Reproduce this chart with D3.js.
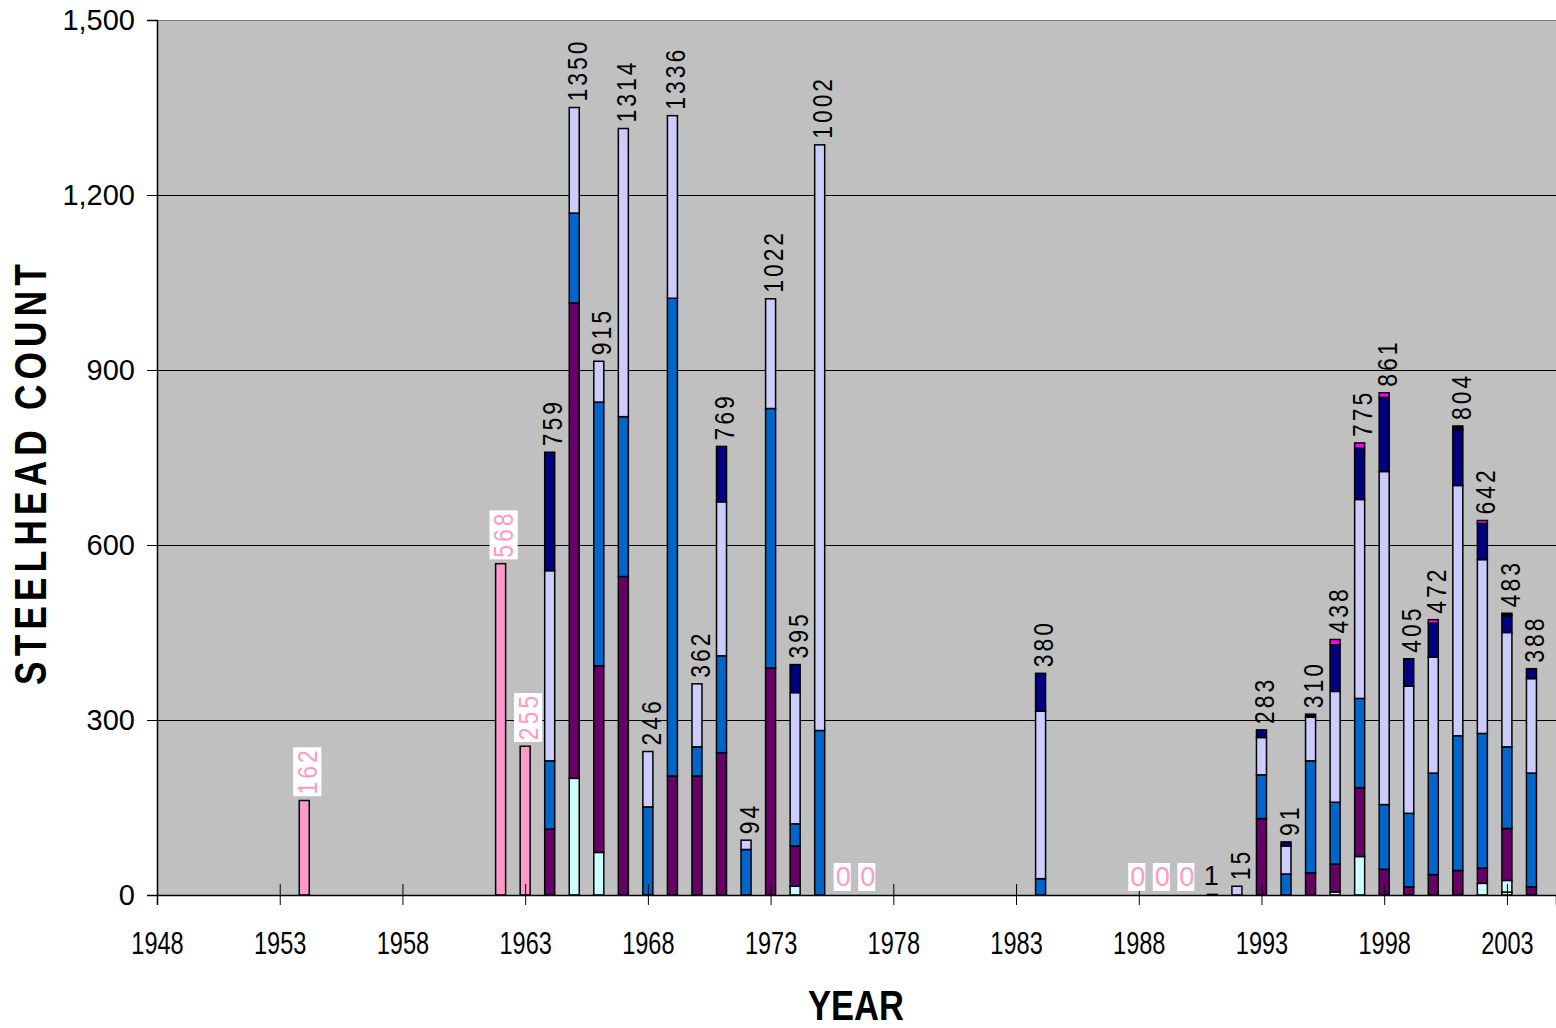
<!DOCTYPE html>
<html>
<head>
<meta charset="utf-8">
<script src="https://cdn.jsdelivr.net/npm/d3@7"></script>
<style>
  html, body { margin: 0; padding: 0; background: #ffffff; }
  svg { display: block; }
</style>
</head>
<body>
<script>
// ---------------- DATA ----------------
const years = [1954,1962,1963,1964,1965,1966,1967,1968,1969,1970,1971,1972,1973,1974,1975,1976,1977,1984,1988,1989,1990,1991,1992,1993,1994,1995,1996,1997,1998,1999,2000,2001,2002,2003,2004];
const barLabels = ["162","568","255","759","1350","915","1314","246","1336","362","769","94","1022","395","1002","0","0","380","0","0","0","1","15","283","91","310","438","775","861","405","472","804","642","483","388"];

const pink     = [162,568,255,null,null, null,null,null,null,null, null,null,null,null,null, 0,0,null,0,0, 0,null,null,null,null, null,null,null,null,null, null,null,null,null,null];
const yellow   = [0,0,0,0,0, 0,0,0,0,0, 0,0,0,0,0, 0,0,0,0,0, 0,0,0,0,0, 0,0,0,0,0, 0,0,0,5,0];
const cyan     = [0,0,0,0,200, 73,0,0,0,0, 0,0,0,15,0, 0,0,0,0,0, 0,0,0,0,0, 0,5,66,0,0, 0,0,20,20,0];
const purple   = [0,0,0,113,815, 320,546,0,204,204, 244,0,389,69,0, 0,0,0,0,0, 0,0,0,131,0, 38,48,118,44,14, 35,42,26,89,14];
const blue     = [0,0,0,117,154, 452,274,151,819,50, 166,78,445,38,282, 0,0,28,0,0, 0,0,0,75,36, 192,106,153,111,126, 174,231,231,140,195];
const lavender = [0,0,0,326,181, 70,494,95,313,108, 264,16,188,225,1004, 0,0,287,0,0, 0,0,15,64,48, 75,190,341,571,218, 199,429,298,196,162];
const navy     = [0,0,0,203,0, 0,0,0,0,0, 95,0,0,48,0, 0,0,65,0,0, 0,0,0,13,7, 0,80,88,127,47, 58,96,62,29,17];
const magenta  = [0,0,0,0,0, 0,0,0,0,0, 0,0,0,0,0, 0,0,0,0,0, 0,0,0,0,0, 0,9,9,8,0, 6,0,5,0,0];
const black    = [0,0,0,0,0, 0,0,0,0,0, 0,0,0,0,0, 0,0,0,0,0, 0,1,0,0,0, 5,0,0,0,0, 0,6,0,4,0];

const xTickValues = [1948,1953,1958,1963,1968,1973,1978,1983,1988,1993,1998,2003];
const yTickValues = [0,300,600,900,1200,1500];
const xTitle = "YEAR";
const yTitle = "STEELHEAD COUNT";

// ---------------- SETUP ----------------
const W = 1556, H = 1028;
const pLeft = 157, pRight = 1556, pTop = 20, pBottom = 895;

const seriesKeys = ["pink","yellow","cyan","purple","blue","lavender","navy","magenta","black"];
const seriesArrays = {pink, yellow, cyan, purple, blue, lavender, navy, magenta, black};
const colors = {
  pink: "#FF99CC", yellow: "#FFFFCC", cyan: "#CCFFFF", purple: "#660066",
  blue: "#0066CC", lavender: "#CCCCFF", navy: "#000080", magenta: "#FF00FF", black: "#000000"
};

const rows = years.map((yr, i) => {
  const r = {year: yr, label: barLabels[i], isPink: pink[i] !== null};
  seriesKeys.forEach(k => r[k] = seriesArrays[k][i] || 0);
  return r;
});

const x = d3.scaleLinear().domain([1948, 2005]).range([pLeft, pRight]);
const y = d3.scaleLinear().domain([0, 1500]).range([pBottom, pTop]);

const svg = d3.select("body").append("svg").attr("width", W).attr("height", H);

// plot background
svg.append("rect").attr("x", pLeft).attr("y", pTop)
  .attr("width", pRight - pLeft).attr("height", pBottom - pTop)
  .attr("fill", "#C0C0C0");

// top border
svg.append("line").attr("x1", pLeft).attr("x2", pRight).attr("y1", pTop + 0.5).attr("y2", pTop + 0.5)
  .attr("stroke", "#808080").attr("stroke-width", 1);

// gridlines
svg.append("g").selectAll("line").data(yTickValues.filter(v => v > 0 && v < 1500)).join("line")
  .attr("x1", pLeft).attr("x2", pRight)
  .attr("y1", d => Math.round(y(d)) + 0.5).attr("y2", d => Math.round(y(d)) + 0.5)
  .attr("stroke", "#000").attr("stroke-width", 1);

// stacked bars
const stacked = d3.stack().keys(seriesKeys)(rows);
const barW = 10;
const barsG = svg.append("g");
stacked.forEach(s => {
  barsG.append("g").selectAll("rect")
    .data(s.filter(d => d[1] - d[0] > 0))
    .join("rect")
    .attr("x", d => x(d.data.year) - barW / 2)
    .attr("width", barW)
    .attr("y", d => y(d[1]))
    .attr("height", d => y(d[0]) - y(d[1]))
    .attr("fill", colors[s.key])
    .attr("stroke", "#000")
    .attr("stroke-width", 1.5);
});

// axes
const yAxis = d3.axisLeft(y).tickValues(yTickValues).tickSize(10).tickPadding(12)
  .tickFormat(d3.format(","));
const yG = svg.append("g").attr("transform", `translate(${pLeft},0)`).call(yAxis);
yG.select(".domain").attr("stroke", "#000").attr("stroke-width", 1.5);
yG.selectAll(".tick line").attr("stroke", "#000").attr("stroke-width", 1);
yG.selectAll(".tick text")
  .attr("font-family", "'Liberation Sans', Arial, sans-serif")
  .attr("font-size", 29).attr("fill", "#000");

const xAxis = d3.axisBottom(x).tickValues(xTickValues).tickSize(10).tickFormat(d3.format("d"));
const xG = svg.append("g").attr("transform", `translate(0,${pBottom})`).call(xAxis);
xG.select(".domain").attr("stroke", "#000").attr("stroke-width", 1.5);
xG.selectAll(".tick line").attr("y1", -11).attr("y2", 10).attr("stroke", "#000").attr("stroke-width", 1);
xG.selectAll(".tick text")
  .attr("font-family", "'Liberation Sans', Arial, sans-serif")
  .attr("font-size", 31).attr("fill", "#000")
  .attr("y", 59).attr("dy", 0)
  .attr("transform", "scale(0.76,1)");

// bar labels
const labG = svg.append("g");
rows.forEach(r => {
  const total = seriesKeys.reduce((a, k) => a + r[k], 0);
  const cx = x(r.year);
  const yt = y(total);
  const rotated = r.label.length > 1;
  const g = labG.append("g");
  let t;
  if (rotated) {
    g.attr("transform", `translate(${cx + 3},${yt - 6}) rotate(-90) scale(0.85,1)`);
    t = g.append("text").attr("x", 0).attr("y", 0)
      .attr("dominant-baseline", "central").attr("text-anchor", "start")
      .attr("letter-spacing", 3.5);
  } else {
    g.attr("transform", `translate(${cx - 1},${yt})`);
    t = g.append("text").attr("x", 0).attr("y", -9).attr("text-anchor", "middle");
  }
  t.text(r.label)
    .attr("font-family", "'Liberation Sans', Arial, sans-serif")
    .attr("font-size", 27)
    .attr("fill", r.isPink ? "#FF99CC" : "#000");
  if (r.isPink) {
    const bb = t.node().getBBox();
    g.insert("rect", "text")
      .attr("x", bb.x - 2).attr("y", bb.y + 1)
      .attr("width", bb.width + 2).attr("height", bb.height - 2)
      .attr("fill", "#fff");
  }
});

// titles
svg.append("text")
  .attr("transform", `translate(46,${472}) rotate(-90) scale(0.8,1)`)
  .attr("text-anchor", "middle")
  .attr("font-family", "'Liberation Sans', Arial, sans-serif")
  .attr("font-weight", "bold").attr("font-size", 44)
  .attr("letter-spacing", 6.5)
  .text(yTitle);

svg.append("text")
  .attr("x", 856).attr("y", 1020)
  .attr("text-anchor", "middle")
  .attr("font-family", "'Liberation Sans', Arial, sans-serif")
  .attr("font-weight", "bold").attr("font-size", 42)
  .attr("textLength", 96).attr("lengthAdjust", "spacingAndGlyphs")
  .text(xTitle);
</script>
</body>
</html>
